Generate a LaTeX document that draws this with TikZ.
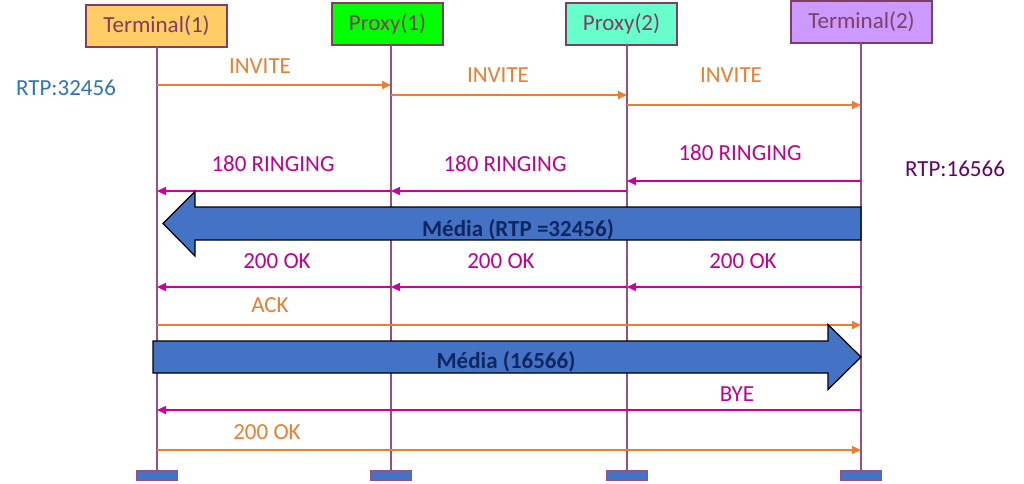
\documentclass[tikz,border=0pt]{standalone}
\usepackage{fontspec}
\setmainfont{Carlito}
\usetikzlibrary{arrows.meta}
\definecolor{boxtext}{RGB}{127,63,98}
\definecolor{lifeline}{RGB}{150,80,130}
\definecolor{orangec}{RGB}{237,125,49}
\definecolor{magc}{RGB}{204,0,153}
\definecolor{magtext}{RGB}{192,0,144}
\definecolor{bluetext}{RGB}{46,117,182}
\definecolor{purptext}{RGB}{102,0,102}
\definecolor{mediablue}{RGB}{68,114,196}
\definecolor{medianavy}{RGB}{16,38,96}
\definecolor{cT1}{RGB}{255,204,102}
\definecolor{cP1}{RGB}{0,255,0}
\definecolor{cP2}{RGB}{102,255,204}
\definecolor{cT2}{RGB}{204,153,255}
\begin{document}
\begin{tikzpicture}[x=1pt,y=-1pt,
  actor/.style={draw=boxtext,line width=1.5pt,minimum height=42pt,inner sep=0pt,
    text=boxtext,font=\fontsize{23}{27}\selectfont},
  endbar/.style={draw=lifeline,line width=1pt,fill=mediablue,minimum width=41pt,minimum height=10pt,inner sep=0pt},
  life/.style={draw=lifeline,line width=1.2pt},
  msgo/.style={draw=orangec,line width=1.5pt,-{Triangle[length=9pt,width=8pt]}},
  msgm/.style={draw=magc,line width=1.5pt,-{Triangle[length=9pt,width=8pt]}},
  lbl/.style={anchor=base,inner sep=0pt,font=\fontsize{23}{27}\selectfont},
  lblo/.style={lbl,text=orangec},
  lblm/.style={lbl,text=magtext},
  media/.style={fill=mediablue,draw=black,line width=1.2pt,line join=miter},
  mediatext/.style={anchor=base,inner sep=0pt,text=medianavy,font=\fontsize{23}{27}\selectfont\bfseries}
]
\useasboundingbox[fill=white] (0,0) rectangle (1024,483);

% actors
\node[actor,fill=cT1,minimum width=141pt] (T1) at (156.5,26) {Terminal(1)};
\node[actor,fill=cP1,minimum width=111pt] (P1) at (387.5,24) {Proxy(1)};
\node[actor,fill=cP2,minimum width=111pt] (P2) at (621.5,24) {Proxy(2)};
\node[actor,fill=cT2,minimum width=141pt] (T2) at (861.5,22) {Terminal(2)};

% end bars
\node[endbar] (B1) at (157,475) {};
\node[endbar] (B2) at (391,475) {};
\node[endbar] (B3) at (627,475) {};
\node[endbar] (B4) at (861,475) {};

% lifeline tops
\coordinate (L1) at (157,47);
\coordinate (L2) at (391,45);
\coordinate (L3) at (627,45);
\coordinate (L4) at (861,43);
\draw[life] (L1) -- (B1.north);
\draw[life] (L2) -- (B2.north);
\draw[life] (L3) -- (B3.north);
\draw[life] (L4) -- (B4.north);

% side labels
\node[lbl,text=bluetext] (rtpA) at (66,95.5) {RTP:32456};
\node[lbl,text=purptext] (rtpB) at (955,176.5) {RTP:16566};

% INVITE
\draw[msgo] (L1 |- 0,85) -- (L2 |- 0,85);
\node[lblo] (inv1) at (260,73.5) {INVITE};
\draw[msgo] (L2 |- 0,95) -- (L3 |- 0,95);
\node[lblo] (inv2) at (498,82.5) {INVITE};
\draw[msgo] (L3 |- 0,105) -- (L4 |- 0,105);
\node[lblo] (inv3) at (731,82.5) {INVITE};

% 180 RINGING
\draw[msgm] (L2 |- 0,191) -- (L1 |- 0,191);
\node[lblm] (r1) at (273,171.5) {180 RINGING};
\draw[msgm] (L3 |- 0,191) -- (L2 |- 0,191);
\node[lblm] (r2) at (505,171.5) {180 RINGING};
\draw[msgm] (L4 |- 0,181) -- (L3 |- 0,181);
\node[lblm] (r3) at (740,160.5) {180 RINGING};

% Media arrow 1 (leftwards)
\draw[media] (861,207) -- (195,207) -- (195,191.5) -- (163,223.5) -- (195,256) -- (195,240) -- (861,240) -- cycle;
\node[mediatext] (m1) at (518,236.5) {Média (RTP =32456)};

% 200 OK
\draw[msgm] (L2 |- 0,287) -- (L1 |- 0,287);
\node[lblm] (ok1) at (277,268.5) {200 OK};
\draw[msgm] (L3 |- 0,287) -- (L2 |- 0,287);
\node[lblm] (ok2) at (501,268.5) {200 OK};
\draw[msgm] (L4 |- 0,287) -- (L3 |- 0,287);
\node[lblm] (ok3) at (743,268.5) {200 OK};

% ACK
\draw[msgo] (L1 |- 0,325) -- (L4 |- 0,325);
\node[lblo] (ack) at (270,312.5) {ACK};

% Media arrow 2 (rightwards)
\draw[media] (153,341) -- (828,341) -- (828,324.5) -- (861,357) -- (828,389.5) -- (828,373) -- (153,373) -- cycle;
\node[mediatext] (m2) at (506,368.5) {Média (16566)};

% BYE
\draw[msgm] (L4 |- 0,410) -- (L1 |- 0,410);
\node[lblm] (bye) at (737,401.5) {BYE};

% final 200 OK
\draw[msgo] (L1 |- 0,450) -- (L4 |- 0,450);
\node[lblo] (ok4) at (267,439.5) {200 OK};
\end{tikzpicture}
\end{document}
